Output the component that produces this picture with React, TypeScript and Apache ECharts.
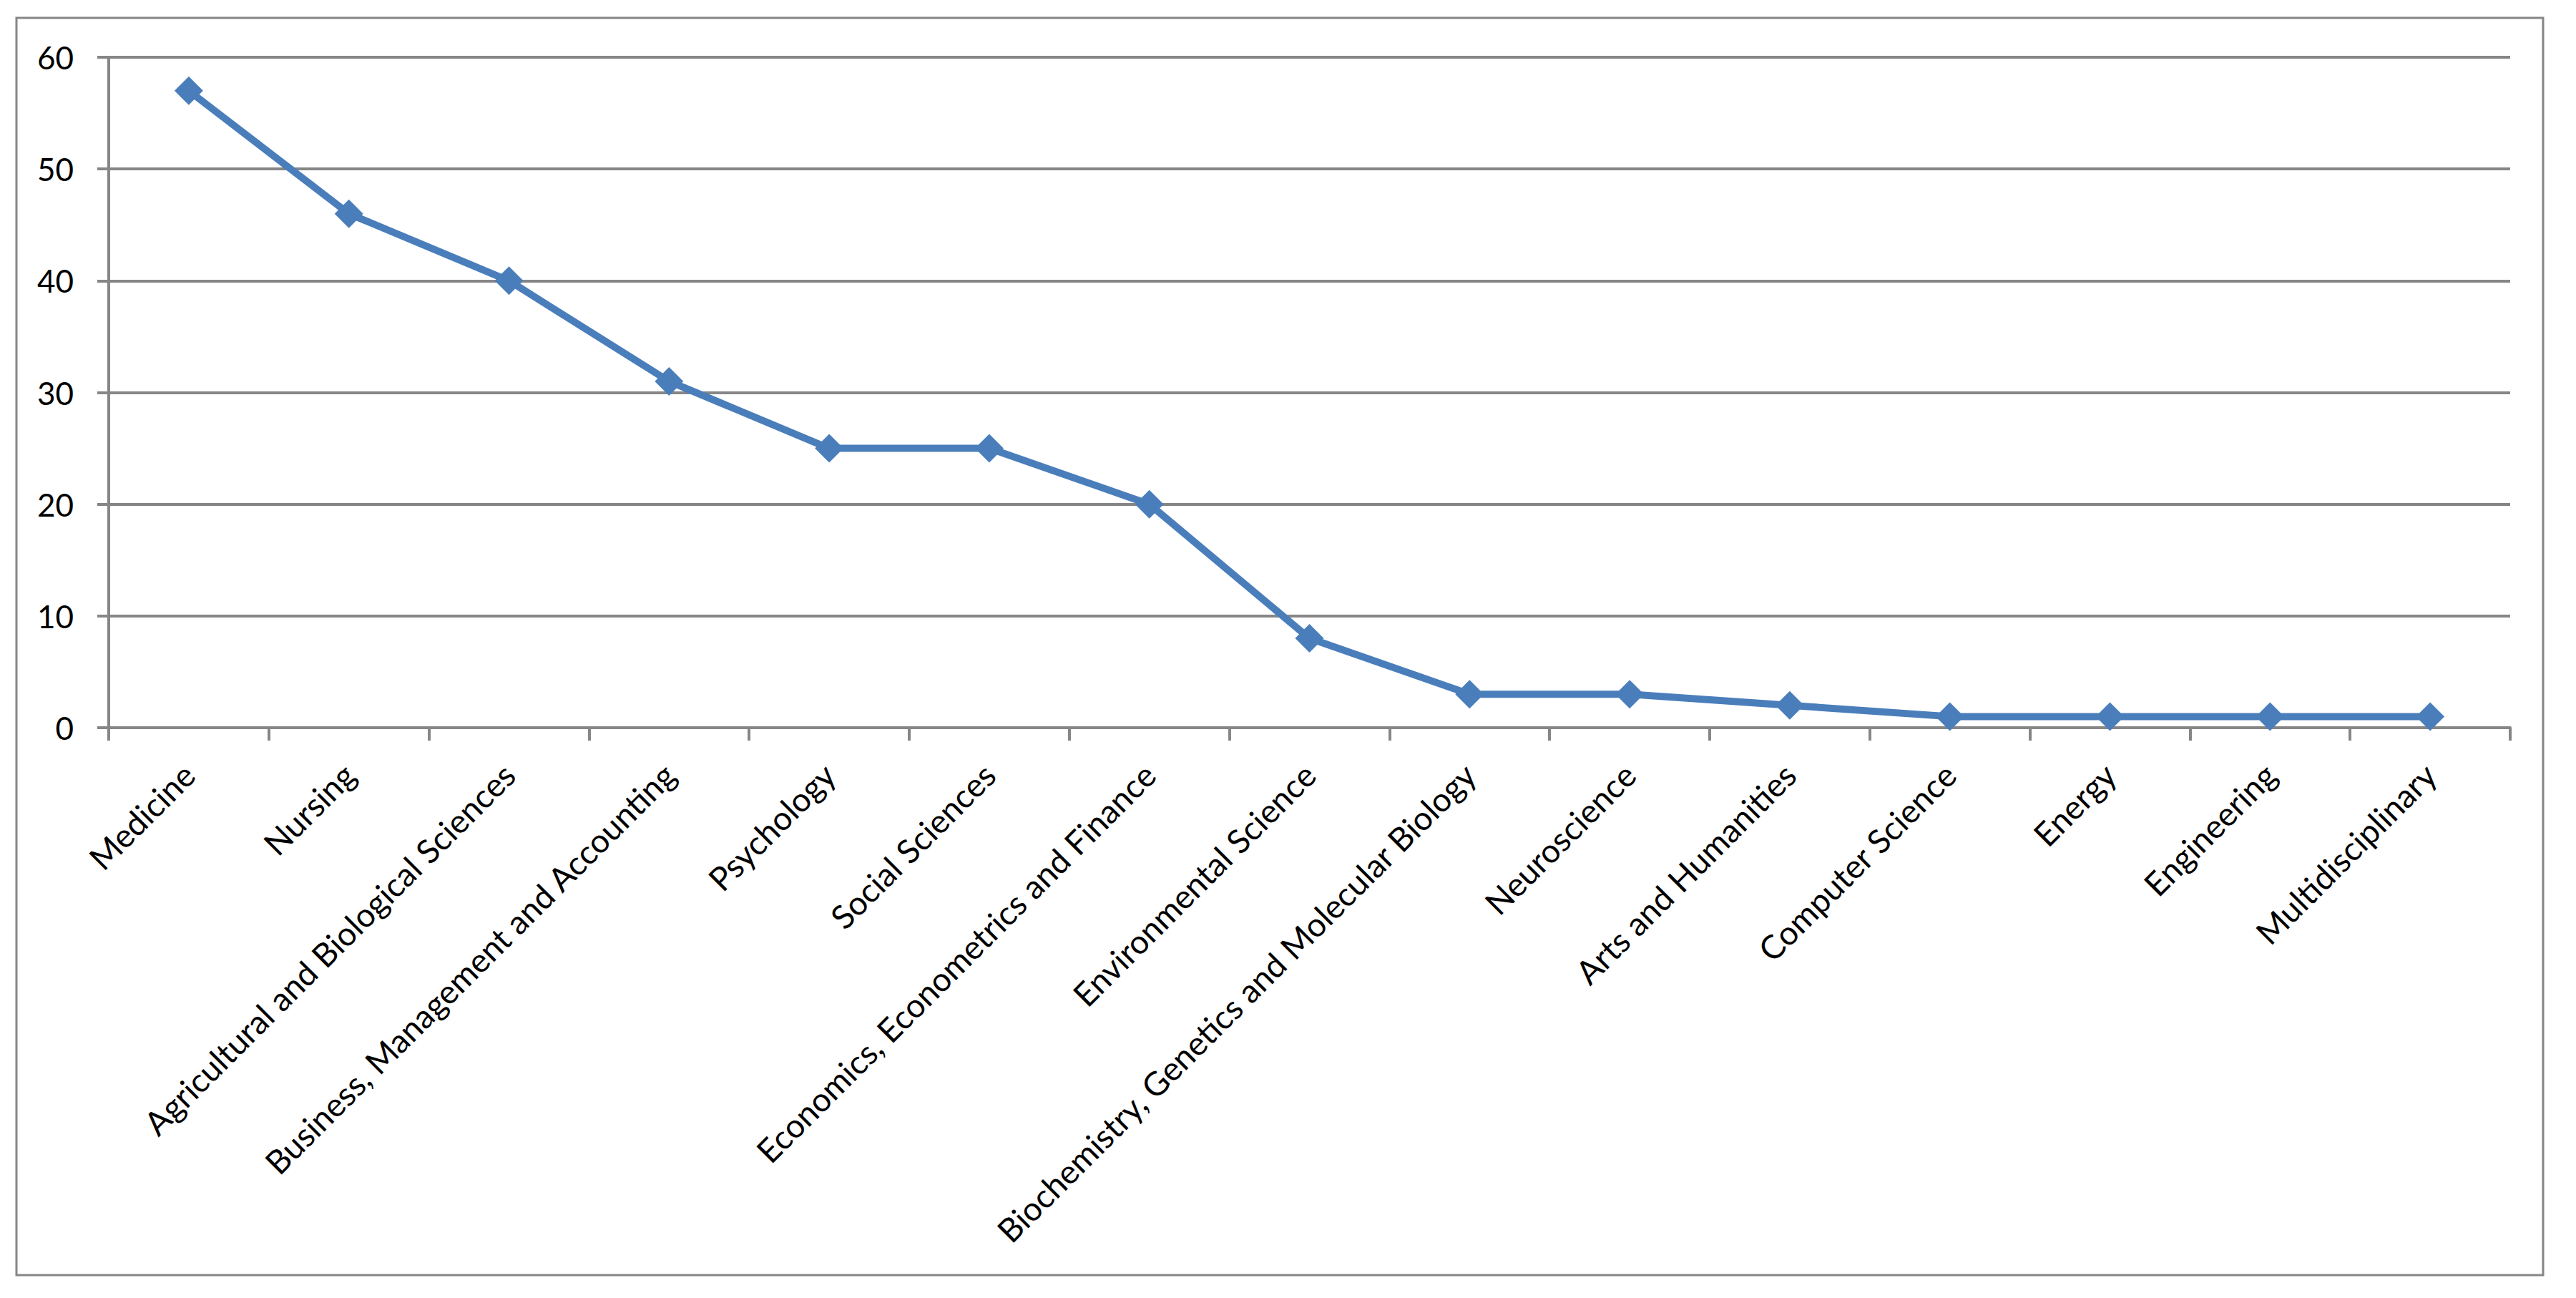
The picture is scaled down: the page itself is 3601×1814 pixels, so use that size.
import React, { useEffect, useRef } from "react";
import * as echarts from "echarts";

const categories = [
  "Medicine",
  "Nursing",
  "Agricultural and Biological Sciences",
  "Business, Management and Accounting",
  "Psychology",
  "Social Sciences",
  "Economics, Econometrics and Finance",
  "Environmental Science",
  "Biochemistry, Genetics and Molecular Biology",
  "Neuroscience",
  "Arts and Humanities",
  "Computer Science",
  "Energy",
  "Engineering",
  "Multidisciplinary",
];

const values = [57, 46, 40, 31, 25, 25, 20, 8, 3, 3, 2, 1, 1, 1, 1];

const yTicks = [0, 10, 20, 30, 40, 50, 60];

export default function App() {
  const ref = useRef<HTMLDivElement>(null);
  useEffect(() => {
    if (!ref.current) return;
    const chart = echarts.init(ref.current, undefined, { renderer: "svg" });
    const gray = "#868686";
    chart.setOption({
      animation: false,
      backgroundColor: "#ffffff",
      graphic: [
        {
          type: "rect",
          shape: { x: 23, y: 25, width: 3532, height: 1757 },
          style: { fill: "none", stroke: gray, lineWidth: 3 },
          silent: true,
        },
      ],
      grid: { left: 152, top: 80, right: 92, bottom: 797, containLabel: false },
      xAxis: {
        type: "category",
        data: categories,
        boundaryGap: true,
        axisLine: { show: true, lineStyle: { color: gray, width: 4 } },
        axisTick: { show: true, length: 18, lineStyle: { color: gray, width: 4 }, alignWithLabel: false },
        axisLabel: {
          rotate: 45,
          interval: 0,
          margin: 58,
          color: "#000000",
          fontSize: 46,
          fontFamily: "Lato",
        },
        splitLine: { show: false },
      },
      yAxis: {
        type: "value",
        min: yTicks[0],
        max: yTicks[yTicks.length - 1],
        interval: 10,
        axisLine: { show: true, lineStyle: { color: gray, width: 4 } },
        axisTick: { show: true, length: 16, lineStyle: { color: gray, width: 4 } },
        axisLabel: {
          margin: 49,
          color: "#000000",
          fontSize: 44,
          fontFamily: "Lato",
        },
        splitLine: { show: true, lineStyle: { color: gray, width: 4 } },
      },
      series: [
        {
          type: "line",
          data: values,
          symbol: "diamond",
          symbolSize: 40,
          showSymbol: true,
          lineStyle: { color: "#4a7ebb", width: 10 },
          itemStyle: { color: "#4a7ebb" },
        },
      ],
    });
    return () => chart.dispose();
  }, []);
  return (
    <div
      ref={ref}
      style={{ position: "fixed", left: 0, top: 0, width: 3601, height: 1814, background: "#fff" }}
    />
  );
}
